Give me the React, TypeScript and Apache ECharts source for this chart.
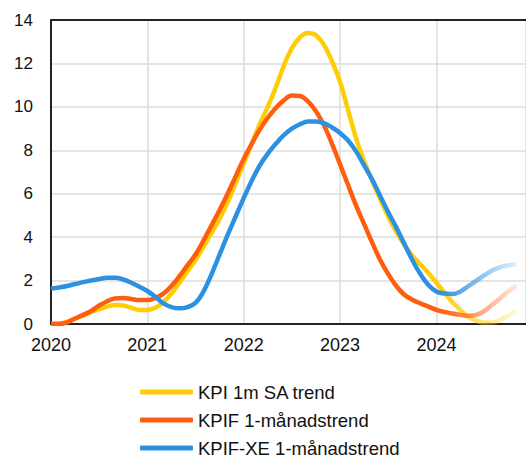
import React, { useEffect, useRef } from "react";
import * as echarts from "echarts";

const months: number[] = [];
for (let y = 2020; y <= 2024; y++) {
  for (let m = 0; m < 12; m++) {
    if (y === 2024 && m > 10) break;
    months.push(y + m / 12);
  }
}

const kpi = [
  0.0, 0.02, 0.1, 0.25, 0.4, 0.55, 0.68, 0.8, 0.87, 0.85, 0.75, 0.65,
  0.65, 0.75, 1.0, 1.4, 1.9, 2.42, 2.95, 3.55, 4.2, 4.85, 5.6, 6.5,
  7.4, 8.3, 9.2, 10.0, 10.9, 11.9, 12.7, 13.2, 13.4, 13.3, 12.85, 12.1,
  11.15, 9.85, 8.55, 7.5, 6.6, 5.75, 4.95, 4.25, 3.65, 3.15, 2.75, 2.35,
  1.9, 1.45, 1.0, 0.65, 0.32, 0.15, 0.07, 0.07, 0.2, 0.4, 0.6,
];

const kpif = [
  0.0, 0.0, 0.08, 0.25, 0.42, 0.6, 0.85, 1.05, 1.18, 1.2, 1.15, 1.1,
  1.1, 1.2, 1.4, 1.75, 2.2, 2.7, 3.2, 3.85, 4.55, 5.25, 6.0, 6.8,
  7.6, 8.3, 8.95, 9.5, 9.95, 10.3, 10.52, 10.5, 10.25, 9.8, 9.15, 8.3,
  7.35, 6.4, 5.45, 4.6, 3.75, 2.95, 2.3, 1.75, 1.35, 1.12, 0.95, 0.8,
  0.65, 0.55, 0.48, 0.42, 0.38, 0.42, 0.6, 0.9, 1.2, 1.5, 1.75,
];

const kpifxe = [
  1.62, 1.68, 1.75, 1.84, 1.93, 2.0, 2.07, 2.13, 2.13, 2.05, 1.9, 1.72,
  1.52, 1.25, 0.95, 0.78, 0.72, 0.78, 0.97, 1.5, 2.3, 3.2, 4.1, 4.95,
  5.8, 6.6, 7.3, 7.85, 8.3, 8.7, 9.0, 9.2, 9.33, 9.33, 9.25, 9.05,
  8.8, 8.45, 7.95, 7.3, 6.65, 5.9, 5.15, 4.45, 3.7, 2.95, 2.3, 1.8,
  1.5, 1.4, 1.38, 1.5, 1.75, 2.0, 2.25, 2.48, 2.62, 2.7, 2.75,
];

const seriesNames = ["KPI 1m SA trend", "KPIF 1-månadstrend", "KPIF-XE 1-månadstrend"];
const seriesValues = [kpi, kpif, kpifxe];
const seriesColors: [number, number, number][] = [
  [255, 205, 5],
  [255, 94, 14],
  [45, 145, 225],
];

const yearTicks = [2020, 2021, 2022, 2023, 2024];

export default function App() {
  const ref = useRef<HTMLDivElement>(null);
  useEffect(() => {
    if (!ref.current) return;
    const chart = echarts.init(ref.current, undefined, { renderer: "svg" });
    const rgba = (c: [number, number, number], a: number) => `rgba(${c[0]},${c[1]},${c[2]},${a})`;
    const font = "'Liberation Sans', Arial, sans-serif";
    const legendTops = [382.5, 410.5, 438.5];
    chart.setOption({
      animation: false,
      backgroundColor: "#ffffff",
      grid: { left: 51, top: 20, right: 0, bottom: 134, containLabel: false },
      legend: seriesNames.map((n, i) => ({
        orient: "vertical",
        left: 140,
        top: legendTops[i],
        padding: 0,
        itemWidth: 53,
        itemHeight: 5,
        icon: "roundRect",
        textStyle: { fontFamily: font, fontSize: 18.5, color: "#111" },
        data: [{ name: n, itemStyle: { color: rgba(seriesColors[i], 1) } }],
      })),
      xAxis: [
        {
          type: "value",
          min: 2020,
          max: 2024.93,
          interval: 1,
          axisLine: { show: true, lineStyle: { color: "#222", width: 2 } },
          axisTick: { show: false },
          splitLine: { show: true, lineStyle: { color: "#dcdcdc", width: 1.5 } },
          axisLabel: {
            fontFamily: font,
            fontSize: 18,
            color: "#111",
            margin: 12,
            showMaxLabel: false,
            formatter: (v: number) => (yearTicks.includes(v) ? String(v) : ""),
          },
        },
        {
          type: "value",
          position: "top",
          min: 2020,
          max: 2024.93,
          interval: 1,
          axisLine: { show: true, onZero: false, lineStyle: { color: "#222", width: 2 } },
          axisTick: { show: false },
          splitLine: { show: false },
          axisLabel: { show: false },
        },
      ],
      yAxis: {
        type: "value",
        min: 0,
        max: 14,
        interval: 2,
        axisLine: { show: true, lineStyle: { color: "#222", width: 2 } },
        axisTick: { show: false },
        splitLine: { show: true, lineStyle: { color: "#dcdcdc", width: 1.5 } },
        axisLabel: { fontFamily: font, fontSize: 17, color: "#111", margin: 18 },
      },
      series: seriesValues.map((vals, i) => ({
        name: seriesNames[i],
        type: "line",
        xAxisIndex: 0,
        smooth: 0.4,
        showSymbol: false,
        symbol: "none",
        itemStyle: { color: rgba(seriesColors[i], 1) },
        lineStyle: {
          width: 4.5,
          color: new echarts.graphic.LinearGradient(
            440,
            0,
            519,
            0,
            [
              { offset: 0, color: rgba(seriesColors[i], 1) },
              { offset: 1, color: rgba(seriesColors[i], 0.12) },
            ],
            true
          ),
        },
        data: vals.map((v, j) => [months[j], v]),
      })),
    });
    return () => chart.dispose();
  }, []);
  return (
    <div
      ref={ref}
      style={{ position: "fixed", left: 0, top: 0, width: 526, height: 458 }}
    />
  );
}
